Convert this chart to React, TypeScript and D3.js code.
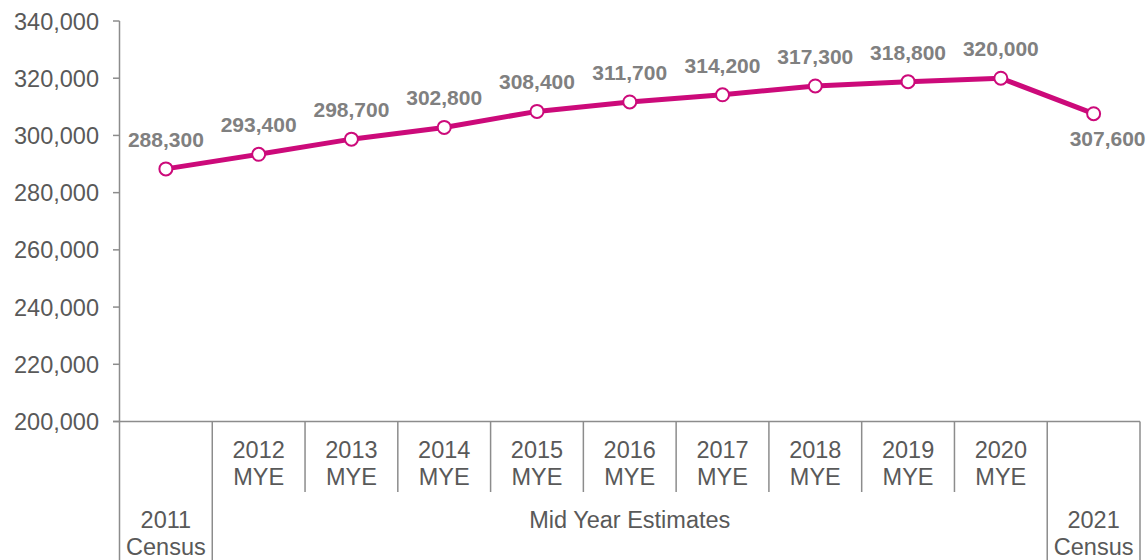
import React from "react";
import * as d3 from "d3";

const categories = ["2011", "2012", "2013", "2014", "2015", "2016", "2017", "2018", "2019", "2020", "2021"];
const subLabels = ["", "MYE", "MYE", "MYE", "MYE", "MYE", "MYE", "MYE", "MYE", "MYE", ""];
const values = [288300, 293400, 298700, 302800, 308400, 311700, 314200, 317300, 318800, 320000, 307600];
const groups = [
  { name: ["2011", "Census"], from: 0, to: 0 },
  { name: ["Mid Year Estimates"], from: 1, to: 9 },
  { name: ["2021", "Census"], from: 10, to: 10 },
];
const yTicks = [200000, 220000, 240000, 260000, 280000, 300000, 320000, 340000];

const W = 1147;
const H = 560;
const left = 119.5;
const right = 1140;
const top = 21;
const bottom = 421.5;

export default function App() {
  const x = d3.scaleBand<string>().domain(categories).range([left, right]).padding(0);
  const y = d3.scaleLinear().domain([200000, 340000]).range([bottom, top]);
  const line = d3
    .line<number>()
    .x((_, i) => (x(categories[i]) as number) + x.bandwidth() / 2)
    .y((d) => y(d));
  const fmt = d3.format(",");
  const axisColor = "#8c8c8c";
  const textColor = "#595959";
  const font = "Liberation Sans, Arial, sans-serif";
  const magenta = "#CC0A7A";
  const fs = 23.5;
  const groupBoundaries = new Set<number>();
  groups.forEach((g) => {
    groupBoundaries.add(g.from);
    groupBoundaries.add(g.to + 1);
  });

  return (
    <svg width={W} height={H} style={{ position: "absolute", left: 0, top: 0, display: "block" }} fontFamily={font}>
      {/* y axis */}
      <line x1={left} x2={left} y1={top} y2={H} stroke={axisColor} strokeWidth={1.5} />
      {yTicks.map((t) => (
        <g key={t}>
          <line x1={113} x2={left} y1={y(t)} y2={y(t)} stroke={axisColor} strokeWidth={1.5} />
          <text x={99} y={y(t) + 8.5} textAnchor="end" fontSize={fs} fill={textColor}>
            {fmt(t)}
          </text>
        </g>
      ))}
      {/* x axis */}
      <line x1={113} x2={right} y1={bottom} y2={bottom} stroke={axisColor} strokeWidth={1.5} />
      {categories.map((c, i) => {
        const bx = x(c) as number;
        if (i === 0) return null;
        const full = groupBoundaries.has(i);
        return (
          <line key={"d" + c} x1={bx} x2={bx} y1={bottom} y2={full ? H : 492} stroke={axisColor} strokeWidth={1.5} />
        );
      })}
      <line x1={right} x2={right} y1={bottom} y2={H} stroke={axisColor} strokeWidth={1.5} />
      {categories.map((c, i) =>
        subLabels[i] ? (
          <text key={"l" + c} textAnchor="middle" fontSize={fs} fill={textColor}>
            <tspan x={(x(c) as number) + x.bandwidth() / 2} y={457.5}>{c}</tspan>
            <tspan x={(x(c) as number) + x.bandwidth() / 2} y={484.5}>{subLabels[i]}</tspan>
          </text>
        ) : null
      )}
      {groups.map((g) => {
        const x0 = x(categories[g.from]) as number;
        const x1 = (x(categories[g.to]) as number) + x.bandwidth();
        const cx = (x0 + x1) / 2;
        return (
          <text key={g.name.join()} textAnchor="middle" fontSize={fs} fill={textColor}>
            {g.name.map((n, k) => (
              <tspan key={k} x={cx} y={528 + k * 27}>
                {n}
              </tspan>
            ))}
          </text>
        );
      })}
      {/* line */}
      <path d={line(values) || ""} fill="none" stroke={magenta} strokeWidth={5} strokeLinejoin="round" />
      {values.map((v, i) => {
        const cx = (x(categories[i]) as number) + x.bandwidth() / 2;
        const cy = y(v);
        const last = i === values.length - 1;
        return (
          <g key={"p" + i}>
            <circle cx={cx} cy={cy} r={6.5} fill="#fff" stroke={magenta} strokeWidth={2} />
            <text
              x={last ? cx + 14 : cx}
              y={last ? cy + 32 : cy - 22}
              textAnchor="middle"
              fontSize={21}
              fontWeight="bold"
              fill="#808080"
            >
              {fmt(v)}
            </text>
          </g>
        );
      })}
    </svg>
  );
}
